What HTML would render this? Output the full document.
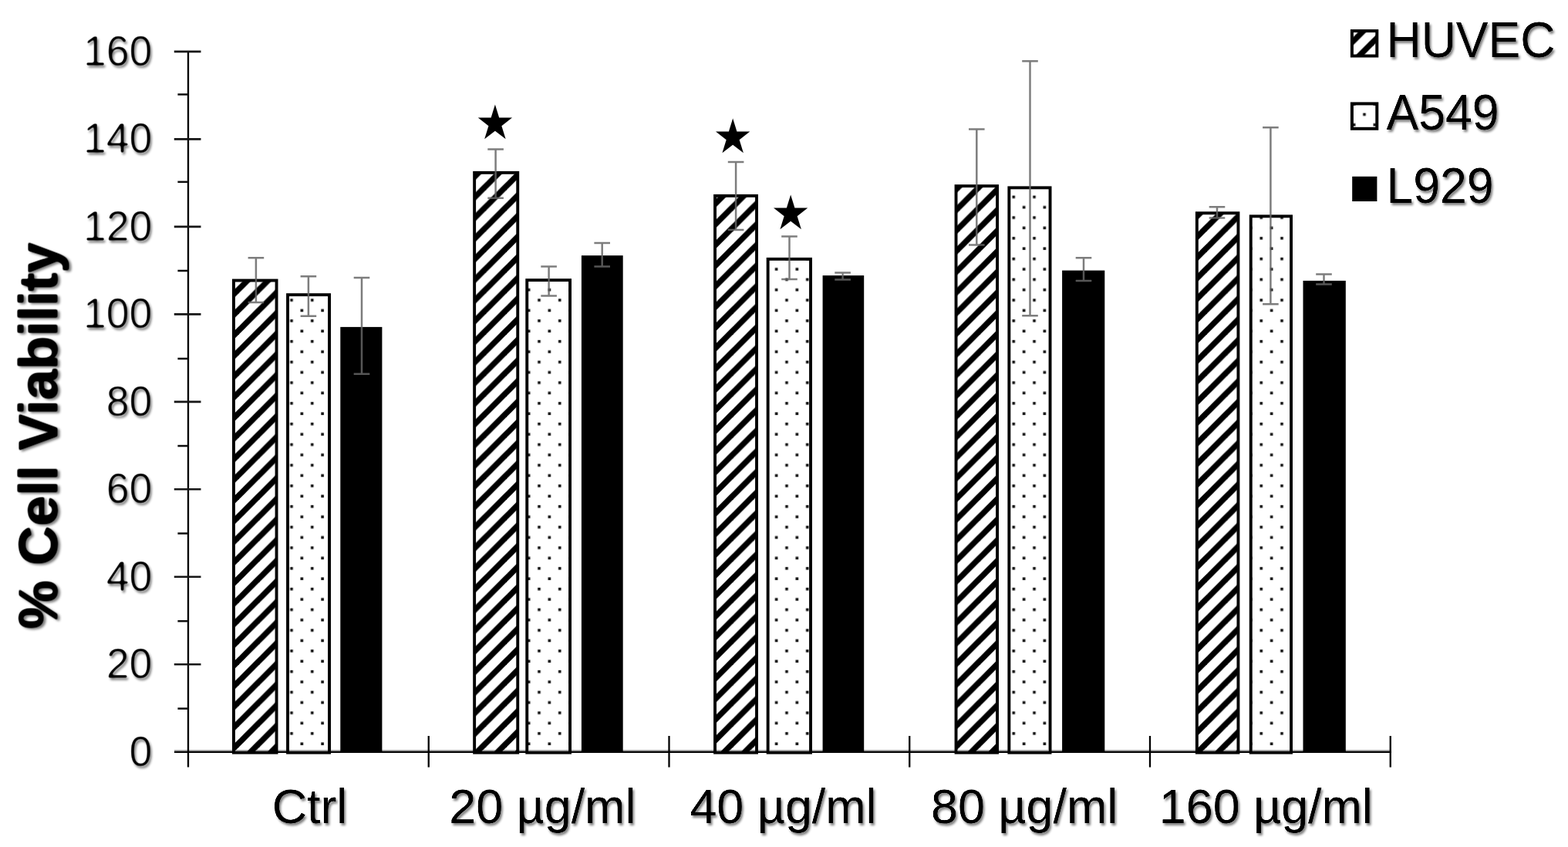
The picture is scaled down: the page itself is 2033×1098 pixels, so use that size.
<!DOCTYPE html>
<html lang="en"><head><meta charset="utf-8"><title>% Cell Viability</title>
<style>
html,body{margin:0;padding:0;background:#fff;}
body{width:2033px;height:1098px;overflow:hidden;position:relative;}
svg{position:absolute;left:0;top:0;display:block;}
text{font-family:"Liberation Sans",sans-serif;fill:#000;}
.yl{font-size:53.5px;text-anchor:end;}
.xl{font-size:62.8px;text-anchor:middle;}
.lg{font-size:62.5px;text-anchor:start;}
.st{font-family:"DejaVu Sans",sans-serif;font-size:58px;text-anchor:middle;fill:#000;}
.yt{font-size:70.6px;font-weight:bold;text-anchor:middle;}
</style></head><body>
<svg width="2033" height="1098" viewBox="0 0 2033 1098">
<defs>

<filter id="sh" x="-10%" y="-30%" width="120%" height="160%" filterUnits="objectBoundingBox" color-interpolation-filters="sRGB">
<feGaussianBlur in="SourceAlpha" stdDeviation="0.65" result="b1"/>
<feComponentTransfer in="b1" result="thin"><feFuncA type="linear" slope="1.6" intercept="-0.29"/></feComponentTransfer>
<feGaussianBlur in="thin" stdDeviation="1.5" result="b"/>
<feOffset in="b" dx="2" dy="2.6" result="o"/>
<feComponentTransfer in="o" result="s"><feFuncA type="linear" slope="0.5"/></feComponentTransfer>
<feMerge><feMergeNode in="s"/><feMergeNode in="thin"/></feMerge>
</filter>
<filter id="sht" x="-10%" y="-30%" width="120%" height="160%" filterUnits="objectBoundingBox" color-interpolation-filters="sRGB">
<feGaussianBlur in="SourceAlpha" stdDeviation="0.9" result="b1"/>
<feComponentTransfer in="b1" result="thin"><feFuncA type="linear" slope="2.4" intercept="-1.02"/></feComponentTransfer>
<feGaussianBlur in="thin" stdDeviation="1.5" result="b"/>
<feOffset in="b" dx="2" dy="2.6" result="o"/>
<feComponentTransfer in="o" result="s"><feFuncA type="linear" slope="0.5"/></feComponentTransfer>
<feMerge><feMergeNode in="s"/><feMergeNode in="thin"/></feMerge>
</filter>
<filter id="shb" x="-10%" y="-30%" width="120%" height="160%" filterUnits="objectBoundingBox" color-interpolation-filters="sRGB">
<feGaussianBlur in="SourceAlpha" stdDeviation="0.9" result="b1"/>
<feComponentTransfer in="b1" result="thin"><feFuncA type="linear" slope="2.2" intercept="-0.16"/></feComponentTransfer>
<feGaussianBlur in="thin" stdDeviation="1.5" result="b"/>
<feOffset in="b" dx="2.6" dy="2" result="o"/>
<feComponentTransfer in="o" result="s"><feFuncA type="linear" slope="0.5"/></feComponentTransfer>
<feMerge><feMergeNode in="s"/><feMergeNode in="thin"/></feMerge>
</filter>
<filter id="soft" x="-5%" y="-5%" width="110%" height="110%"><feGaussianBlur stdDeviation="0.55"/></filter>

<pattern id="hat" patternUnits="userSpaceOnUse" x="0" y="0" width="26.7" height="26.75" patternTransform="translate(16.3,0)">
<rect x="0" y="0" width="26.7" height="26.75" fill="#fff"/>
<polygon points="-5.30,0 5.30,0 -21.40,26.75 -32.00,26.75" fill="#000"/>
<polygon points="21.40,0 32.00,0 5.30,26.75 -5.30,26.75" fill="#000"/>
<polygon points="48.10,0 58.70,0 32.00,26.75 21.40,26.75" fill="#000"/>
</pattern>
<pattern id="hat2" patternUnits="userSpaceOnUse" x="0" y="0" width="26.75" height="26.75" patternTransform="translate(15.6,0)">
<rect x="0" y="0" width="26.75" height="26.75" fill="#fff"/>
<polygon points="-5.30,0 5.30,0 -21.45,26.75 -32.05,26.75" fill="#000"/>
<polygon points="21.45,0 32.05,0 5.30,26.75 -5.30,26.75" fill="#000"/>
<polygon points="48.20,0 58.80,0 32.05,26.75 21.45,26.75" fill="#000"/>
</pattern>
<pattern id="dot" patternUnits="userSpaceOnUse" x="0" y="0" width="26.75" height="26.75">
<rect x="0" y="0" width="26.75" height="26.75" fill="#fff"/>
<rect x="1.70" y="12.80" width="3.6" height="3.6" fill="#111"/>
<rect x="28.45" y="12.80" width="3.6" height="3.6" fill="#111"/>
<rect x="15.07" y="-0.57" width="3.6" height="3.6" fill="#111"/>
<rect x="15.07" y="26.18" width="3.6" height="3.6" fill="#111"/>
</pattern>
</defs>
<rect x="0" y="0" width="2033" height="1098" fill="#fff"/>
<g filter="url(#soft)">
<rect x="302.95" y="363.55" width="55.60" height="612.10" fill="url(#hat)" stroke="#000" stroke-width="3.9"/>
<rect x="373.05" y="382.15" width="54.00" height="593.50" fill="url(#dot)" stroke="#000" stroke-width="3.9"/>
<rect x="441.30" y="423.90" width="54.10" height="550.80" fill="#000"/>
<rect x="615.15" y="223.85" width="56.10" height="751.80" fill="url(#hat)" stroke="#000" stroke-width="3.9"/>
<rect x="683.25" y="363.15" width="55.80" height="612.50" fill="url(#dot)" stroke="#000" stroke-width="3.9"/>
<rect x="753.90" y="331.20" width="53.80" height="643.50" fill="#000"/>
<rect x="927.05" y="253.85" width="54.00" height="721.80" fill="url(#hat)" stroke="#000" stroke-width="3.9"/>
<rect x="995.65" y="335.85" width="55.40" height="639.80" fill="url(#dot)" stroke="#000" stroke-width="3.9"/>
<rect x="1066.60" y="357.10" width="53.60" height="617.60" fill="#000"/>
<rect x="1239.55" y="241.15" width="53.50" height="734.50" fill="url(#hat)" stroke="#000" stroke-width="3.9"/>
<rect x="1308.35" y="243.35" width="53.20" height="732.30" fill="url(#dot)" stroke="#000" stroke-width="3.9"/>
<rect x="1377.10" y="350.60" width="55.20" height="624.10" fill="#000"/>
<rect x="1551.85" y="276.25" width="53.60" height="699.40" fill="url(#hat)" stroke="#000" stroke-width="3.9"/>
<rect x="1621.75" y="280.35" width="52.30" height="695.30" fill="url(#dot)" stroke="#000" stroke-width="3.9"/>
<rect x="1689.50" y="363.90" width="55.30" height="610.80" fill="#000"/>
<rect x="226" y="972.2" width="1577.95" height="2" fill="#9c9c9c" style="mix-blend-mode:darken"/>
<rect x="226" y="973.9" width="1577.95" height="2.1" fill="#000"/>
<g stroke="#000" stroke-width="2.3" fill="none">
<line x1="244.0" y1="65.9" x2="244.0" y2="994.6"/>
<line x1="555.75" y1="954" x2="555.75" y2="994.6"/>
<line x1="867.50" y1="954" x2="867.50" y2="994.6"/>
<line x1="1179.25" y1="954" x2="1179.25" y2="994.6"/>
<line x1="1491.00" y1="954" x2="1491.00" y2="994.6"/>
<line x1="1802.75" y1="954" x2="1802.75" y2="994.6"/>
</g>
<line x1="230.4" y1="918.56" x2="244.0" y2="918.56" stroke="#111" stroke-width="2.5"/>
<line x1="225.8" y1="861.23" x2="260.5" y2="861.23" stroke="#161616" stroke-width="2.7"/>
<line x1="230.4" y1="805.19" x2="244.0" y2="805.19" stroke="#111" stroke-width="2.5"/>
<line x1="225.8" y1="747.75" x2="260.5" y2="747.75" stroke="#161616" stroke-width="2.7"/>
<line x1="230.4" y1="691.51" x2="244.0" y2="691.51" stroke="#111" stroke-width="2.5"/>
<line x1="225.8" y1="634.27" x2="260.5" y2="634.27" stroke="#161616" stroke-width="2.7"/>
<line x1="230.4" y1="578.04" x2="244.0" y2="578.04" stroke="#111" stroke-width="2.5"/>
<line x1="225.8" y1="520.80" x2="260.5" y2="520.80" stroke="#161616" stroke-width="2.7"/>
<line x1="230.4" y1="464.96" x2="244.0" y2="464.96" stroke="#111" stroke-width="2.5"/>
<line x1="225.8" y1="407.33" x2="260.5" y2="407.33" stroke="#161616" stroke-width="2.7"/>
<line x1="230.4" y1="350.99" x2="244.0" y2="350.99" stroke="#111" stroke-width="2.5"/>
<line x1="225.8" y1="293.85" x2="260.5" y2="293.85" stroke="#161616" stroke-width="2.7"/>
<line x1="230.4" y1="235.81" x2="244.0" y2="235.81" stroke="#111" stroke-width="2.5"/>
<line x1="225.8" y1="180.38" x2="260.5" y2="180.38" stroke="#161616" stroke-width="2.7"/>
<line x1="230.4" y1="122.44" x2="244.0" y2="122.44" stroke="#111" stroke-width="2.5"/>
<line x1="225.8" y1="66.90" x2="260.5" y2="66.90" stroke="#161616" stroke-width="2.7"/>
<g stroke="#666" stroke-opacity="0.85" stroke-width="2.5" fill="none">
<path d="M321.60 334.30H342.20M321.60 392.00H342.20M331.90 334.30V392.00"/>
<path d="M389.60 358.30H410.20M389.60 409.70H410.20M399.90 358.30V409.70"/>
<path d="M458.70 360.10H479.30M458.70 484.80H479.30M469.00 360.10V484.80"/>
<path d="M632.30 193.40H652.90M632.30 256.80H652.90M642.60 193.40V256.80"/>
<path d="M701.30 345.40H721.90M701.30 383.60H721.90M711.60 345.40V383.60"/>
<path d="M770.40 315.00H791.00M770.40 345.40H791.00M780.70 315.00V345.40"/>
<path d="M943.80 210.10H964.40M943.80 298.10H964.40M954.10 210.10V298.10"/>
<path d="M1013.20 306.60H1033.80M1013.20 362.00H1033.80M1023.50 306.60V362.00"/>
<path d="M1082.30 353.50H1102.90M1082.30 362.50H1102.90M1092.60 353.50V362.50"/>
<path d="M1256.00 167.50H1276.60M1256.00 317.50H1276.60M1266.30 167.50V317.50"/>
<path d="M1325.20 79.30H1345.80M1325.20 409.30H1345.80M1335.50 79.30V409.30"/>
<path d="M1394.70 334.20H1415.30M1394.70 364.10H1415.30M1405.00 334.20V364.10"/>
<path d="M1567.70 268.30H1588.30M1567.70 282.50H1588.30M1578.00 268.30V282.50"/>
<path d="M1637.10 165.30H1657.70M1637.10 394.20H1657.70M1647.40 165.30V394.20"/>
<path d="M1706.20 355.50H1726.80M1706.20 368.60H1726.80M1716.50 355.50V368.60"/>
</g>
<text class="st" transform="translate(641.90,180.33) scale(0.9963,1.0640)">★</text>
<text class="st" transform="translate(950.10,198.23) scale(0.9963,1.0640)">★</text>
<text class="st" transform="translate(1025.20,297.13) scale(0.9963,1.0640)">★</text>
<rect x="1752.9" y="40.1" width="32.4" height="32.4" fill="url(#hat2)" stroke="#000" stroke-width="4"/>
<rect x="1752.9" y="134.4" width="32.4" height="32.4" fill="url(#dot)" stroke="#000" stroke-width="4"/>
<rect x="1753.2" y="228.8" width="32.2" height="32.2" fill="#000"/>
</g>
<g filter="url(#sht)">
<text class="yl" transform="translate(197.3,992.60) scale(1,1.03)">0</text>
<text class="yl" transform="translate(197.3,879.12) scale(1,1.03)">20</text>
<text class="yl" transform="translate(197.3,765.65) scale(1,1.03)">40</text>
<text class="yl" transform="translate(197.3,652.17) scale(1,1.03)">60</text>
<text class="yl" transform="translate(197.3,538.70) scale(1,1.03)">80</text>
<text class="yl" transform="translate(197.3,425.23) scale(1,1.03)">100</text>
<text class="yl" transform="translate(197.3,311.75) scale(1,1.03)">120</text>
<text class="yl" transform="translate(197.3,198.28) scale(1,1.03)">140</text>
<text class="yl" transform="translate(197.3,84.80) scale(1,1.03)">160</text>
</g>
<g filter="url(#sh)">
<text class="xl" transform="translate(401.5,1067.0) scale(1,1.01)">Ctrl</text>
<text class="xl" transform="translate(703.3,1067.0) scale(1,1.01)">20 µg/ml</text>
<text class="xl" transform="translate(1015.5,1067.0) scale(1,1.01)">40 µg/ml</text>
<text class="xl" transform="translate(1328.1,1067.0) scale(1,1.01)">80 µg/ml</text>
<text class="xl" transform="translate(1641.3,1067.0) scale(1,1.01)">160 µg/ml</text>
</g>
<g filter="url(#sh)">
<text class="lg" transform="translate(1797.5,73.89999999999999) scale(1,1.03)">HUVEC</text>
<text class="lg" transform="translate(1797.6,168.2) scale(1,1.03)">A549</text>
<text class="lg" transform="translate(1797.5,263.20000000000005) scale(1,1.03)">L929</text>
</g>
<g filter="url(#shb)">
<text class="yt" transform="translate(73.8,564.8) rotate(-90)">% Cell Viability</text>
</g>
</svg></body></html>
